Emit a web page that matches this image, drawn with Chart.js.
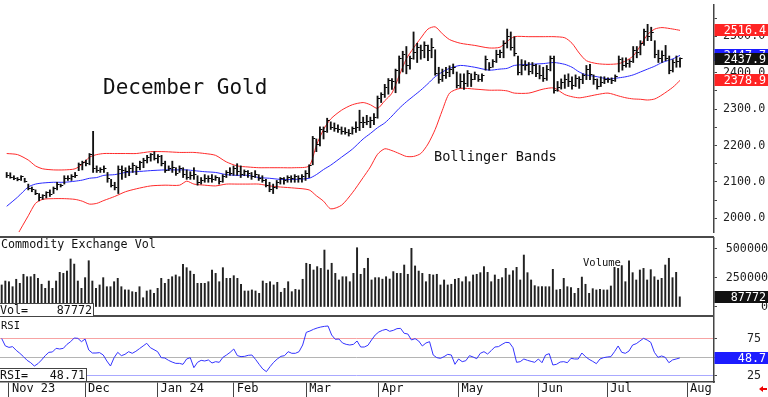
<!DOCTYPE html>
<html>
<head>
<meta charset="utf-8">
<script src="https://cdn.jsdelivr.net/npm/chart.js@4.4.1/dist/chart.umd.min.js"></script>
<style>
html,body{margin:0;padding:0;background:#fff;}
body{position:relative;width:768px;height:397px;overflow:hidden;}
canvas{position:absolute;left:0;}
.sep{position:absolute;left:0;width:714px;height:2px;background:#4a4a4a;}
.t{position:absolute;font-family:'DejaVu Sans Mono',monospace;line-height:1;color:#111;white-space:nowrap;}
.ib{position:absolute;left:0;height:14px;box-sizing:border-box;border:1px solid #444;border-left:none;background:#fff;display:flex;justify-content:space-between;align-items:center;font:11.7px/12px 'DejaVu Sans Mono',monospace;color:#111;padding:0 1px 0 0;}
.arrowHead{position:absolute;left:759px;top:386px;width:0;height:0;border-top:3px solid transparent;border-bottom:3px solid transparent;border-right:4px solid #e00;}
.arrowShaft{position:absolute;left:763px;top:387.8px;width:4px;height:2.5px;background:#e00;}
</style>
</head>
<body>
<canvas id="cPrice" width="768" height="237" style="top:0"></canvas>
<canvas id="cVol" width="768" height="80" style="top:237px"></canvas>
<canvas id="cRsi" width="768" height="80" style="top:317px"></canvas>
<div class="sep" style="top:236px"></div>
<div class="sep" style="top:315px"></div>
<div class="t" style="left:103px;top:77.4px;font-size:21px">December Gold</div>
<div class="t" style="left:434px;top:150.1px;font-size:13.6px">Bollinger Bands</div>
<div class="t" style="left:1px;top:238.9px;font-size:11.7px">Commodity Exchange Vol</div>
<div class="t" style="left:583px;top:257.4px;font-size:10.5px">Volume</div>
<div class="t" style="left:1px;top:319.9px;font-size:10.5px">RSI</div>
<div class="ib" style="top:303px;width:94px"><span>Vol=</span><span id="volVal"></span></div>
<div class="ib" style="top:368px;width:87px"><span>RSI=</span><span id="rsiVal"></span></div>
<div class="arrowHead"></div><div class="arrowShaft"></div>
<script>
// ---------- data ----------
const monthTicks  = [2, 23, 43, 64, 84, 104, 126, 148, 167, 189];
const monthLabels = ['Nov 23','Dec','Jan 24','Feb','Mar','Apr','May','Jun','Jul','Aug'];

const highs = [
2126,2125,2117,2112,2117,2110,2094,2086,2078,2068,
2065,2073,2078,2086,2099,2094,2117,2117,2120,2126,
2152,2157,2160,2178,2239,2144,2139,2144,2126,2107,
2099,2144,2144,2139,2144,2152,2144,2157,2165,2173,
2178,2183,2175,2173,2157,2144,2157,2139,2144,2139,
2133,2128,2139,2117,2112,2120,2117,2120,2117,2112,
2120,2131,2139,2144,2150,2144,2133,2131,2126,2131,
2120,2117,2107,2099,2094,2104,2112,2112,2117,2117,
2120,2117,2120,2131,2147,2225,2218,2251,2251,2275,
2265,2262,2257,2251,2249,2244,2251,2265,2297,2278,
2283,2278,2288,2336,2345,2368,2384,2384,2410,2446,
2459,2472,2446,2512,2481,2476,2485,2476,2494,2463,
2415,2410,2415,2419,2424,2402,2397,2397,2406,2397,
2402,2394,2397,2446,2428,2436,2462,2462,2488,2520,
2512,2499,2446,2436,2433,2428,2428,2423,2420,2415,
2420,2446,2446,2376,2383,2394,2397,2389,2394,2389,
2397,2420,2423,2394,2383,2389,2389,2386,2386,2394,
2446,2441,2441,2436,2472,2472,2488,2520,2533,2525,
2488,2462,2460,2475,2446,2436,2446,2441];
const lows = [
2112,2110,2106,2103,2104,2099,2078,2073,2065,2048,
2052,2056,2060,2068,2078,2086,2094,2104,2104,2112,
2131,2133,2144,2147,2126,2126,2126,2126,2099,2086,
2078,2068,2107,2112,2117,2126,2120,2133,2139,2152,
2157,2160,2152,2144,2126,2131,2126,2118,2126,2112,
2107,2107,2107,2091,2094,2099,2099,2099,2104,2094,
2099,2112,2118,2118,2118,2112,2117,2112,2107,2112,
2104,2099,2086,2073,2068,2081,2094,2094,2099,2099,
2099,2099,2099,2104,2112,2147,2183,2199,2218,2236,
2244,2239,2236,2231,2231,2226,2231,2236,2241,2249,
2257,2249,2257,2275,2318,2332,2341,2354,2345,2371,
2402,2397,2410,2437,2428,2437,2441,2433,2441,2393,
2371,2376,2384,2389,2397,2358,2358,2354,2362,2362,
2381,2376,2376,2407,2407,2415,2428,2441,2441,2468,
2462,2446,2394,2394,2407,2394,2397,2389,2383,2376,
2379,2405,2344,2349,2355,2357,2362,2355,2362,2357,
2370,2381,2381,2368,2355,2362,2370,2373,2370,2376,
2402,2407,2415,2415,2428,2441,2449,2475,2488,2488,
2441,2428,2428,2433,2397,2402,2415,2415];
const closes = [
2118,2113,2110,2106,2114,2102,2082,2080,2068,2056,
2062,2070,2066,2082,2094,2090,2110,2108,2114,2118,
2148,2152,2150,2174,2136,2132,2134,2138,2110,2090,
2086,2135,2130,2128,2138,2146,2140,2152,2160,2168,
2174,2165,2170,2150,2132,2138,2140,2124,2136,2120,
2112,2118,2120,2098,2104,2108,2110,2106,2112,2100,
2116,2126,2124,2136,2128,2120,2128,2124,2116,2120,
2110,2104,2090,2078,2084,2098,2108,2104,2112,2108,
2114,2110,2116,2124,2144,2218,2204,2244,2238,2268,
2250,2246,2244,2238,2236,2232,2246,2250,2262,2262,
2265,2270,2278,2330,2340,2360,2378,2375,2405,2438,
2450,2420,2440,2455,2470,2462,2474,2460,2470,2398,
2380,2392,2400,2408,2415,2365,2375,2370,2398,2380,
2395,2380,2392,2436,2415,2430,2450,2455,2480,2500,
2470,2452,2400,2420,2420,2404,2420,2398,2392,2384,
2410,2440,2350,2360,2372,2380,2376,2365,2385,2380,
2392,2410,2395,2380,2362,2372,2380,2380,2378,2390,
2436,2420,2425,2430,2460,2455,2480,2512,2500,2510,
2450,2440,2448,2440,2405,2428,2432,2437.9];

// Bollinger bands, read at these bar positions
const bandIdx = [0,3,6,8,10,13,16,19,21,23,25,27,30,33,36,40,44,48,50,52,55,58,61,64,67,70,73,76,80,84,
86,88,90,93,96,99,101,103,105,107,109,111,113,115,117,119,121,123,126,130,134,137,139,141,145,149,152,155,157,159,
161,164,167,170,172,174,176,178,180,182,185,187];
const upperBand = [2178,2175,2160,2144,2136,2133,2133,2136,2149,2168,2175,2178,2178,2178,2178,2183,2183,2181,2181,2181,
2178,2173,2155,2144,2141,2139,2139,2139,2139,2144,2200,2244,2273,2297,2312,2318,2312,2302,2323,2344,
2392,2438,2468,2495,2520,2526,2507,2491,2481,2475,2468,2470,2486,2499,2499,2499,2499,2496,2481,2454,
2433,2425,2423,2425,2433,2446,2474,2505,2520,2524,2520,2516.4];
const middleBand = [2033,2058,2086,2094,2097,2099,2099,2102,2105,2110,2112,2118,2120,2126,2128,2131,2133,2133,2133,2131,
2128,2126,2120,2118,2118,2112,2110,2107,2107,2110,2120,2134,2146,2168,2190,2218,2233,2249,2262,2281,
2302,2320,2336,2352,2370,2389,2402,2412,2420,2415,2407,2410,2412,2420,2423,2425,2428,2423,2415,2402,
2394,2389,2383,2386,2389,2394,2402,2410,2418,2428,2438,2447.7];
const lowerBand = [1895,1955,2007,2041,2052,2054,2054,2052,2047,2039,2041,2049,2060,2073,2081,2089,2091,2091,2102,2094,
2091,2089,2094,2094,2094,2094,2089,2086,2083,2078,2062,2047,2026,2036,2070,2112,2141,2176,2191,2186,
2178,2170,2170,2178,2204,2244,2297,2344,2357,2355,2352,2352,2350,2344,2344,2355,2358,2340,2334,2331,
2334,2340,2344,2336,2331,2328,2327,2325,2328,2339,2360,2378.9];

const volumes = [
190000,224000,218000,175000,239000,204000,282000,261000,261000,282000,
247000,196000,161000,224000,161000,224000,299000,290000,310000,414000,
370000,224000,161000,253000,399000,224000,161000,190000,253000,175000,
175000,218000,247000,175000,147000,147000,132000,127000,175000,80000,
138000,147000,118000,161000,247000,204000,239000,261000,276000,261000,
368000,339000,310000,282000,204000,204000,204000,218000,319000,290000,
218000,339000,247000,247000,270000,247000,196000,138000,138000,147000,
138000,118000,224000,204000,218000,190000,213000,127000,161000,218000,
132000,152000,147000,239000,377000,368000,319000,348000,333000,491000,
319000,377000,290000,233000,261000,261000,218000,290000,511000,282000,
333000,420000,233000,253000,253000,240000,261000,241000,305000,290000,
290000,362000,282000,506000,354000,310000,290000,218000,282000,276000,
282000,190000,233000,190000,196000,239000,247000,218000,261000,218000,
276000,282000,296000,348000,299000,218000,276000,239000,253000,333000,
276000,313000,342000,233000,448000,296000,233000,184000,175000,175000,
175000,175000,325000,147000,152000,247000,175000,167000,118000,161000,
258000,196000,118000,158000,147000,152000,147000,147000,181000,342000,
333000,357000,218000,399000,296000,233000,319000,333000,233000,322000,
261000,233000,247000,362000,420000,253000,299000,87772];

const rsi = [
75,65,63,64,59,55,50.5,45.5,42.3,37.8,
41,46,51.8,56.3,56.8,61.7,60.8,61.7,67.1,70.7,
75.7,75.2,70.7,74.3,59.5,55.4,55.4,55.9,52.7,44.6,
37.8,49.1,56.3,51.8,53.6,57.2,55,57.7,61.3,64.9,
68.5,62.6,59.9,57.2,49.1,48.6,45.5,43.2,41.4,41.4,
40.1,47.3,49.1,35.6,42.8,45.5,44.6,46,41.9,43.7,
42.8,49.5,52.7,56.3,60.8,51.8,50.5,50.9,52.3,52.7,
46.8,40.1,33.8,30.2,36.9,42.8,47.3,50.9,51.8,57.2,
55,55,57.2,66.2,83.3,85.1,87.4,89.2,90.5,91.4,
91.9,79.7,73.9,74.3,68.9,67.1,66.2,67.1,71.6,63.5,
63.5,65.8,73,79.7,83.8,86,87.4,84.7,86,88.3,
88.7,82,81.1,73,74.8,71.6,64.9,68.9,70.7,52.7,
49.1,48.2,50.5,53.6,52.7,40.1,47.3,43.7,45,51.8,
50,47.7,55,57.2,54,58.6,63.5,64,67.1,69.8,
69.4,62.6,42.8,43.7,47.3,45.5,44.1,42.8,47.3,42.3,
52.7,54.5,39.2,40.1,43.2,43.7,42.3,48.2,47.3,47.3,
55.4,50.5,46.8,44.1,41,47.3,49.1,50,50.5,57.2,
64.9,56.3,55,58.1,66.2,68,71.6,75.2,73,69.8,
56.3,49.5,51.4,49.5,42.3,46,47.3,48.71];

const priceTickValues = [2000,2050,2100,2150,2200,2250,2300,2350,2400,2450,2500,2550];
const volTickValues = [0, 250000, 500000];
const rsiTickValues = [25, 50, 75];

// ---------- chart setup ----------
Chart.defaults.font.family = "'DejaVu Sans Mono', monospace";
Chart.defaults.color = '#222';
const FONT = "11.7px 'DejaVu Sans Mono', monospace";
const X_MIN = -0.469, X_MAX = 196.44, AXIS_W = 54;

function xAxis(show) {
  const ax = { type:'linear', min:X_MIN, max:X_MAX, display:show, offset:false, bounds:'data',
    grid:{ offset:false, drawOnChartArea:false },
    afterFit(s){ s.paddingLeft = 0; s.paddingRight = 0; if (show) s.height = 15; } };
  if (show) Object.assign(ax, {
    afterBuildTicks(s){ s.ticks = monthTicks.map(v => ({value:v})); },
    ticks:{ callback:(v, i) => monthLabels[i], align:'start', labelOffset:3, padding:-15.4,
            maxRotation:0, minRotation:0, autoSkip:false, font:{size:12}, color:'#111' },
    grid:{ offset:false, drawOnChartArea:false, drawTicks:true, tickLength:15, color:'#444', lineWidth:1 },
    border:{ display:true, color:'#444', width:1.5 }
  });
  return ax;
}
function yAxis(min, max, vals, fmt, o) {
  o = o || {};
  return { type:'linear', position:'right', min, max,
    afterBuildTicks(s){ s.ticks = vals.map(v => ({value:v})); },
    afterFit(s){ s.width = AXIS_W; s.paddingTop = 0; s.paddingBottom = 0; },
    ticks:{ callback: fmt, crossAlign: o.align || 'near', padding: o.pad ?? 6, autoSkip:false,
            font:{size:11.7}, color:'#222' },
    grid:{ drawOnChartArea: !!o.gridColor, color: o.gridColor || '#444', tickColor:'#444',
           drawTicks:true, tickLength:3, lineWidth:1 },
    border:{ display:true, color:'#444', width:1.5 }
  };
}
function valueBoxes(items) {
  return { id:'valueBoxes', afterDraw(chart) {
    const ys = chart.scales.y, ctx = chart.ctx, left = chart.chartArea.right + 0.5;
    ctx.save();
    ctx.font = FONT; ctx.textAlign = 'right'; ctx.textBaseline = 'middle';
    items.forEach(it => {
      const y = ys.getPixelForValue(it.value);
      ctx.fillStyle = it.bg; ctx.fillRect(left, Math.round(y) - 6, AXIS_W, 12);
      ctx.fillStyle = '#fff'; ctx.fillText(it.text, 766, Math.round(y) + 0.5);
    });
    ctx.restore();
  }};
}
const band = arr => bandIdx.map((b, k) => ({x:b, y:arr[k]}));
const base = { responsive:false, animation:false, events:[], layout:{padding:0},
  plugins:{ legend:{display:false}, tooltip:{enabled:false} } };

// close tick marker (right-hand tick of an HLC bar)
const tickImg = document.createElement('canvas');
tickImg.width = 7; tickImg.height = 1;
const tctx = tickImg.getContext('2d'); tctx.fillStyle = '#000'; tctx.fillRect(4, 0, 2, 1);

// ---------- price panel ----------
new Chart(document.getElementById('cPrice'), {
  type:'bar',
  data:{ datasets:[
    { type:'line', data: closes.map((c,i)=>({x:i, y:c})), showLine:false, pointStyle:tickImg, pointRadius:3 },
    { type:'bar', data: highs.map((h,i)=>({x:i, y:[lows[i], h]})), backgroundColor:'#111', barThickness:1.2, borderWidth:0 },
    { type:'line', data: band(middleBand), borderColor:'#2a2aff', borderWidth:1, pointRadius:0, tension:0.25 },
    { type:'line', data: band(upperBand), borderColor:'#ff2a2a', borderWidth:1, pointRadius:0, tension:0.25 },
    { type:'line', data: band(lowerBand), borderColor:'#ff2a2a', borderWidth:1, pointRadius:0, tension:0.25 }
  ]},
  options: Object.assign({}, base, { scales:{
    x: xAxis(false),
    y: yAxis(1962.37, 2586.05, priceTickValues, v => (v % 100 === 0 ? v.toFixed(1) : ''))
  }}),
  plugins:[ valueBoxes([
    { value: upperBand[upperBand.length-1], text: upperBand[upperBand.length-1].toFixed(1), bg:'#ff2424' },
    { value: middleBand[middleBand.length-1], text: middleBand[middleBand.length-1].toFixed(1), bg:'#1c1cff' },
    { value: closes[closes.length-1], text: closes[closes.length-1].toFixed(1), bg:'#111' },
    { value: lowerBand[lowerBand.length-1], text: lowerBand[lowerBand.length-1].toFixed(1), bg:'#ff2424' }
  ]) ]
});

// ---------- volume panel ----------
new Chart(document.getElementById('cVol'), {
  type:'bar',
  data:{ datasets:[
    { data: volumes.map((v,i)=>({x:i, y:v})), backgroundColor:'#222', barThickness:1.3, borderWidth:0 }
  ]},
  options: Object.assign({}, base, { scales:{
    x: xAxis(false),
    y: yAxis(-86207, 603448, volTickValues, v => String(v), {align:'far'})
  }}),
  plugins:[ valueBoxes([{ value: volumes[volumes.length-1], text: String(volumes[volumes.length-1]), bg:'#111' }]) ]
});

// ---------- RSI panel ----------
const rsiLineColors = {25:'#a9a9ff', 50:'#b4b4b4', 75:'#f7a3a3'};
new Chart(document.getElementById('cRsi'), {
  type:'line',
  data:{ datasets:[
    { data: rsi.map((v,i)=>({x:i, y:v})), borderColor:'#3333ff', borderWidth:1, pointRadius:0, tension:0 }
  ]},
  options: Object.assign({}, base, { scales:{
    x: xAxis(true),
    y: yAxis(16.22, 104.05, rsiTickValues, v => (v === 50 ? '' : String(v)),
         {pad:30, gridColor: c => rsiLineColors[c.tick && c.tick.value] || '#ccc'})
  }}),
  plugins:[ valueBoxes([{ value: rsi[rsi.length-1], text: rsi[rsi.length-1].toFixed(1), bg:'#1c1cff' }]) ]
});

document.getElementById('volVal').textContent = String(volumes[volumes.length-1]);
document.getElementById('rsiVal').textContent = rsi[rsi.length-1].toFixed(2);
</script>
</body>
</html>
